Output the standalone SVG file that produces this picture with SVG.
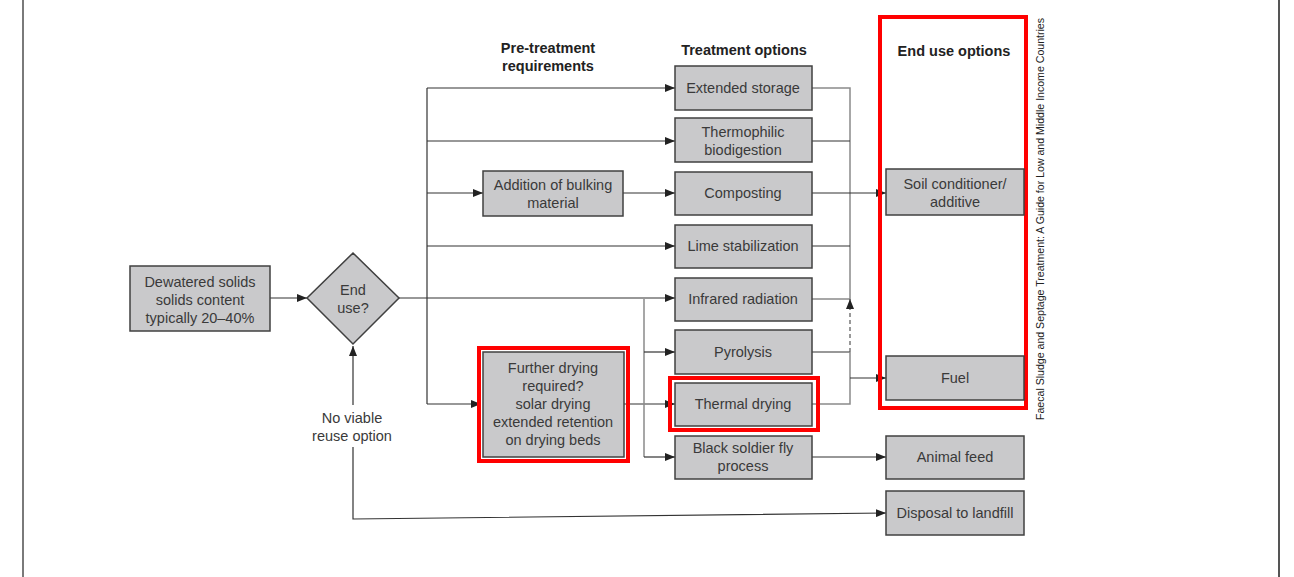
<svg xmlns="http://www.w3.org/2000/svg" width="1294" height="577" viewBox="0 0 1294 577">
<style>
text{font-family:"Liberation Sans",Arial,sans-serif;font-size:14.5px;fill:#3a3a3a;text-anchor:middle}
.h{font-weight:bold;fill:#222;font-size:14.5px}
.box{fill:#c9c9cb;stroke:#404040;stroke-width:1.5}
.red{fill:none;stroke:#ff0000;stroke-width:4}
.c{fill:none;stroke:#333;stroke-width:1.2}
.g{fill:none;stroke:#8a8a8a;stroke-width:1.5}
.d{fill:none;stroke:#555;stroke-width:1.2;stroke-dasharray:4 3}
</style>
<defs>
<marker id="a" viewBox="0 0 10 8" refX="10" refY="4" markerWidth="10" markerHeight="8" markerUnits="userSpaceOnUse" orient="auto">
<path d="M0,0 L10,4 L0,8 z" fill="#222"/>
</marker>
</defs>
<rect width="1294" height="577" fill="#fff"/>
<line x1="23" y1="0" x2="23" y2="577" stroke="#7a7a7a" stroke-width="2"/>
<line x1="1279" y1="0" x2="1279" y2="577" stroke="#555" stroke-width="2"/>

<g id="headers">
<text class="h" x="548" y="53">Pre-treatment</text>
<text class="h" x="548" y="71">requirements</text>
<text class="h" x="744" y="55">Treatment options</text>
<text class="h" x="954" y="56">End use options</text>
</g>

<g id="connectors">
<path class="c" d="M270,298 H307" marker-end="url(#a)"/>
<path class="c" d="M399,298 H675" marker-end="url(#a)"/>
<path class="c" d="M427,88 V404"/>
<path class="c" d="M427,88 H675" marker-end="url(#a)"/>
<path class="c" d="M427,141 H675" marker-end="url(#a)"/>
<path class="c" d="M427,193 H483" marker-end="url(#a)"/>
<path class="c" d="M427,246 H675" marker-end="url(#a)"/>
<path class="c" d="M427,404 H481" marker-end="url(#a)"/>
<path class="c" d="M623,193 H675" marker-end="url(#a)"/>
<path class="c" d="M624,404 H675" marker-end="url(#a)"/>
<path class="g" d="M644,299 V457"/>
<path class="c" d="M644,352 H675" marker-end="url(#a)"/>
<path class="c" d="M644,457 H675" marker-end="url(#a)"/>
<path class="g" d="M812,88 H850 V299 H812"/>
<path class="c" d="M812,141 H850"/>
<path class="c" d="M812,193 H886" marker-end="url(#a)"/>
<path class="c" d="M812,246 H850"/>
<path class="c" d="M812,352 H850"/>
<path class="g" d="M812,404 H850 V352"/>
<path class="d" d="M850,352 V299" marker-end="url(#a)"/>
<path class="c" d="M850,378 H886" marker-end="url(#a)"/>
<path class="c" d="M812,457 H886" marker-end="url(#a)"/>
<path class="c" d="M353,405 V346" marker-end="url(#a)"/>
<path class="c" d="M353,447 V519 L886,513" marker-end="url(#a)"/>
</g>

<g id="dewatered">
<rect class="box" x="130" y="266" width="140" height="65"/>
<text x="200" y="287">Dewatered solids</text>
<text x="200" y="305">solids content</text>
<text x="200" y="323">typically 20–40%</text>
</g>
<g id="enduse-decision">
<polygon class="box" points="353,253 399,298 353,344 307,298"/>
<text x="353" y="295">End</text>
<text x="353" y="313">use?</text>
</g>
<g id="no-viable">
<text x="352" y="423">No viable</text>
<text x="352" y="441">reuse option</text>
</g>
<g id="bulking">
<rect class="box" x="483" y="171" width="140" height="45"/>
<text x="553" y="190">Addition of bulking</text>
<text x="553" y="208">material</text>
</g>
<g id="further-drying">
<rect class="box" x="483" y="352" width="141" height="105"/>
<rect class="red" x="479" y="348" width="149" height="113"/>
<text x="553" y="373">Further drying</text>
<text x="553" y="391">required?</text>
<text x="553" y="409">solar drying</text>
<text x="553" y="427">extended retention</text>
<text x="553" y="445">on drying beds</text>
</g>
<g id="extended-storage">
<rect class="box" x="675" y="66" width="137" height="44"/>
<text x="743" y="93">Extended storage</text>
</g>
<g id="thermophilic">
<rect class="box" x="675" y="118" width="137" height="44"/>
<text x="743" y="137">Thermophilic</text>
<text x="743" y="155">biodigestion</text>
</g>
<g id="composting">
<rect class="box" x="675" y="172" width="137" height="43"/>
<text x="743" y="198">Composting</text>
</g>
<g id="lime">
<rect class="box" x="675" y="225" width="137" height="43"/>
<text x="743" y="251">Lime stabilization</text>
</g>
<g id="infrared">
<rect class="box" x="675" y="278" width="137" height="43"/>
<text x="743" y="304">Infrared radiation</text>
</g>
<g id="pyrolysis">
<rect class="box" x="675" y="330" width="137" height="44"/>
<text x="743" y="357">Pyrolysis</text>
</g>
<g id="thermal-drying">
<rect class="box" x="675" y="383" width="137" height="43"/>
<rect class="red" x="670" y="378" width="148" height="52"/>
<text x="743" y="409">Thermal drying</text>
</g>
<g id="bsf">
<rect class="box" x="675" y="436" width="137" height="43"/>
<text x="743" y="453">Black soldier fly</text>
<text x="743" y="471">process</text>
</g>
<g id="enduse-frame">
<rect class="red" x="880" y="17" width="146" height="391"/>
</g>
<g id="soil">
<rect class="box" x="886" y="169" width="138" height="46"/>
<text x="955" y="189">Soil conditioner/</text>
<text x="955" y="207">additive</text>
</g>
<g id="fuel">
<rect class="box" x="886" y="356" width="138" height="44"/>
<text x="955" y="383">Fuel</text>
</g>
<g id="animal-feed">
<rect class="box" x="886" y="436" width="138" height="43"/>
<text x="955" y="462">Animal feed</text>
</g>
<g id="landfill">
<rect class="box" x="886" y="491" width="138" height="44"/>
<text x="955" y="518">Disposal to landfill</text>
</g>
<g id="caption">
<text transform="translate(1044,219) rotate(-90)" style="font-size:10.5px;fill:#222" textLength="402" lengthAdjust="spacingAndGlyphs">Faecal Sludge and Septage Treatment: A Guide for Low and Middle Income Countries</text>
</g>
</svg>
